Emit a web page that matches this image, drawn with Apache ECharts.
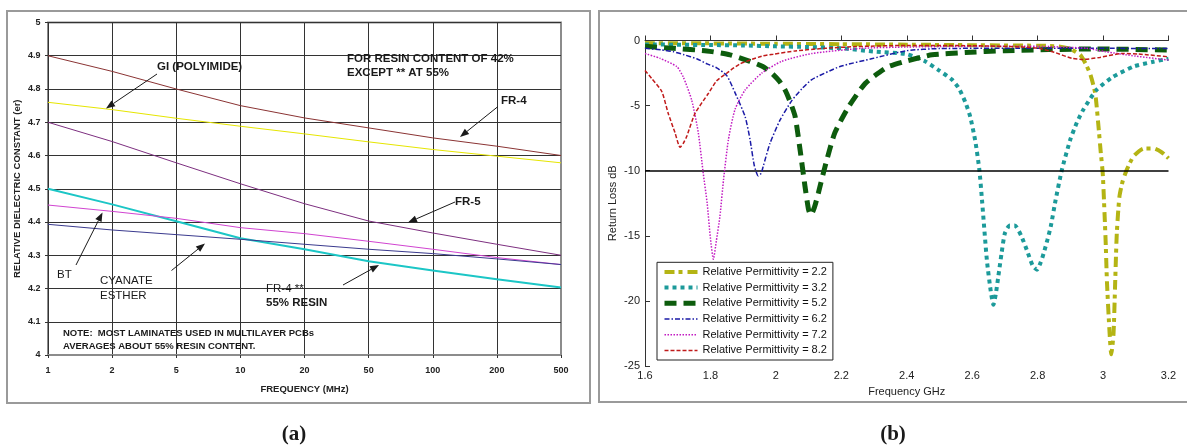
<!DOCTYPE html>
<html>
<head>
<meta charset="utf-8">
<script src="https://cdn.jsdelivr.net/npm/echarts@6.0.0/dist/echarts.min.js"></script>
<style>
  html, body { margin: 0; padding: 0; background: #fff; }
  #c { width: 1187px; height: 446px; }
</style>
</head>
<body>
<div id="c"></div>
<script>
// ---- Panel (a): relative dielectric constant of laminates vs frequency ----
const freqMHz = ['1', '2', '5', '10', '20', '50', '100', '200', '500'];
const fr4          = [4.900, 4.853, 4.800, 4.750, 4.713, 4.683, 4.653, 4.628, 4.600];
const giPolyimide  = [4.760, 4.738, 4.712, 4.688, 4.665, 4.641, 4.618, 4.598, 4.578];
const fr5          = [4.700, 4.642, 4.578, 4.515, 4.455, 4.403, 4.367, 4.333, 4.300];
const fr4Resin55   = [4.500, 4.453, 4.402, 4.351, 4.318, 4.282, 4.254, 4.228, 4.203];
const bt           = [4.451, 4.432, 4.411, 4.383, 4.365, 4.342, 4.318, 4.293, 4.272];
const cyanateEster = [4.393, 4.376, 4.362, 4.348, 4.333, 4.318, 4.305, 4.289, 4.272];

// ---- Panel (b): return loss (dB) vs frequency (GHz) for several permittivities ----
const er22 = [[1.6,-0.2],[1.8,-0.22],[2.0,-0.25],[2.2,-0.28],[2.4,-0.32],[2.6,-0.36],[2.8,-0.4],
  [2.86,-0.45],[2.9,-0.65],[2.93,-1.1],[2.946,-1.75],[2.961,-2.6],[2.976,-4.05],[2.986,-6.6],
  [2.993,-8.6],[2.999,-10.2],[3.004,-13.0],[3.008,-15.5],[3.012,-18.6],[3.02,-22.5],[3.025,-24.1],
  [3.032,-22.5],[3.037,-18.6],[3.042,-14.8],[3.05,-12.0],[3.06,-10.8],[3.073,-9.9],[3.093,-8.9],
  [3.124,-8.3],[3.155,-8.3],[3.18,-8.6],[3.2,-9.05]];
const er32 = [[1.6,-0.3],[1.8,-0.35],[1.9,-0.38],[2.0,-0.45],[2.1,-0.5],[2.2,-0.6],[2.3,-0.85],
  [2.4,-1.05],[2.456,-1.6],[2.497,-2.27],[2.538,-3.0],[2.56,-3.7],[2.58,-4.8],[2.594,-5.85],
  [2.61,-7.8],[2.622,-9.95],[2.63,-12.25],[2.645,-16.9],[2.657,-19.3],[2.665,-20.3],[2.672,-19.5],
  [2.68,-18.1],[2.69,-16.3],[2.70,-14.8],[2.715,-14.2],[2.73,-14.2],[2.75,-15.0],[2.767,-16.1],
  [2.785,-17.3],[2.798,-17.6],[2.81,-17.0],[2.819,-16.3],[2.83,-15.3],[2.84,-14.3],[2.855,-12.25],
  [2.874,-9.95],[2.90,-7.6],[2.92,-6.3],[2.94,-5.3],[2.98,-3.8],[3.03,-2.8],[3.093,-2.0],
  [3.15,-1.65],[3.2,-1.4]];
const er52 = [[1.6,-0.45],[1.687,-0.6],[1.789,-0.8],[1.86,-1.1],[1.921,-1.6],[1.96,-2.0],[1.987,-2.5],
  [2.01,-3.1],[2.028,-3.8],[2.045,-4.8],[2.059,-5.85],[2.074,-8.4],[2.089,-11.2],[2.1,-13.0],
  [2.107,-13.4],[2.118,-12.8],[2.13,-11.7],[2.15,-9.7],[2.18,-7.1],[2.222,-5.1],[2.273,-3.3],
  [2.319,-2.4],[2.344,-2.0],[2.395,-1.6],[2.45,-1.25],[2.477,-1.1],[2.578,-0.93],[2.7,-0.78],
  [2.966,-0.65],[3.2,-0.73]];
const er62 = [[1.6,-0.6],[1.65,-0.72],[1.687,-0.86],[1.72,-1.1],[1.758,-1.4],[1.79,-1.8],[1.819,-2.1],
  [1.85,-2.7],[1.875,-4.0],[1.906,-5.85],[1.921,-7.6],[1.934,-9.6],[1.946,-10.4],[1.955,-10.2],
  [1.962,-9.6],[1.982,-7.9],[2.013,-6.1],[2.049,-4.6],[2.08,-3.7],[2.11,-3.0],[2.196,-2.0],
  [2.298,-1.37],[2.4,-0.78],[2.5,-0.62],[2.7,-0.6],[3.0,-0.6],[3.2,-0.62]];
const er72 = [[1.6,-1.0],[1.646,-1.37],[1.697,-2.0],[1.717,-2.8],[1.743,-4.6],[1.763,-7.1],[1.778,-10.2],
  [1.79,-12.5],[1.8,-15.2],[1.809,-16.8],[1.818,-15.4],[1.829,-13.5],[1.84,-10.7],[1.855,-7.6],
  [1.875,-5.3],[1.906,-3.8],[1.957,-2.5],[2.018,-1.6],[2.11,-1.0],[2.263,-0.6],[2.4,-0.5],
  [2.6,-0.45],[2.8,-0.45],[2.95,-0.6],[3.007,-0.86],[3.1,-1.2],[3.2,-1.5]];
const er82 = [[1.6,-2.3],[1.62,-2.9],[1.651,-3.9],[1.671,-5.6],[1.692,-7.1],[1.707,-8.2],[1.717,-7.9],
  [1.727,-7.4],[1.753,-5.6],[1.794,-4.05],[1.819,-3.1],[1.85,-2.5],[1.89,-1.8],[1.957,-1.2],
  [1.992,-1.05],[2.059,-0.8],[2.15,-0.6],[2.247,-0.47],[2.4,-0.38],[2.6,-0.4],[2.75,-0.5],
  [2.803,-0.6],[2.85,-0.9],[2.905,-1.37],[2.94,-1.45],[2.99,-1.3],[3.058,-1.0],[3.108,-1.04],
  [3.2,-1.25]];
const returnLossLimit = -10;

const SANS = '"Liberation Sans", Arial, sans-serif';
const SERIF = '"Liberation Serif", "Times New Roman", serif';
const INK = '#1a1a1a';

function textEl(txt, x, y, size, bold, align, font) {
  const f = (bold ? 'bold ' : '') + size + 'px ' + (font || SANS);
  return {
    type: 'text', x: x, y: y, z: 100, silent: true,
    style: { text: txt, font: f, fill: INK, align: align || 'left', verticalAlign: 'middle',
             textAlign: align || 'left', textVerticalAlign: 'middle' }
  };
}

function arrowEl(x1, y1, x2, y2) {
  const dx = x2 - x1, dy = y2 - y1, L = Math.hypot(dx, dy);
  const ux = dx / L, uy = dy / L, hl = 9, hw = 3.5;
  const bx = x2 - ux * hl, by = y2 - uy * hl;
  return [
    { type: 'line', z: 100, silent: true, shape: { x1: x1, y1: y1, x2: bx, y2: by },
      style: { stroke: INK, lineWidth: 1 } },
    { type: 'polygon', z: 100, silent: true,
      shape: { points: [[x2, y2], [bx - uy * hw, by + ux * hw], [bx + uy * hw, by - ux * hw]] },
      style: { fill: INK } }
  ];
}

function panelALine(name, data, color, width) {
  return {
    name: name, type: 'line', xAxisIndex: 0, yAxisIndex: 0, data: data,
    symbol: 'none', showSymbol: false, smooth: false, z: 3,
    lineStyle: { color: color, width: width }, itemStyle: { color: color },
    emphasis: { disabled: true }
  };
}

const permSeries = [
  { name: 'Relative Permittivity = 2.2', data: er22, color: '#b4b414', width: 4,   dash: [10, 4, 4, 5] },
  { name: 'Relative Permittivity = 3.2', data: er32, color: '#1c9a9a', width: 4,   dash: [4, 4] },
  { name: 'Relative Permittivity = 5.2', data: er52, color: '#0d5c0d', width: 5,   dash: [12, 7] },
  { name: 'Relative Permittivity = 6.2', data: er62, color: '#1a1aa6', width: 1.5, dash: [5, 2, 1.5, 2] },
  { name: 'Relative Permittivity = 7.2', data: er72, color: '#c21bc2', width: 1.5, dash: [1.5, 1.5] },
  { name: 'Relative Permittivity = 8.2', data: er82, color: '#c01a1a', width: 1.5, dash: [4, 2] }
];

const panelBSeries = permSeries.map(function (s, i) {
  const out = {
    name: s.name, type: 'line', xAxisIndex: 1, yAxisIndex: 1, data: s.data,
    symbol: 'none', showSymbol: false, smooth: 0.2, z: 3 + i,
    lineStyle: { color: s.color, width: s.width, type: s.dash, cap: 'butt' },
    itemStyle: { color: s.color },
    emphasis: { disabled: true }
  };
  if (i === 0) {
    out.markLine = {
      silent: true, symbol: ['none', 'none'], label: { show: false },
      lineStyle: { color: '#000', width: 1.5, type: 'solid' },
      emphasis: { disabled: true },
      data: [{ yAxis: returnLossLimit }]
    };
  }
  return out;
});

const graphics = [
  // panel frames
  { type: 'rect', z: 0, silent: true, shape: { x: 7, y: 11, width: 583, height: 392 },
    style: { fill: 'none', stroke: '#9a9a9a', lineWidth: 2 } },
  { type: 'rect', z: 0, silent: true, shape: { x: 599, y: 11, width: 620, height: 391 },
    style: { fill: 'none', stroke: '#9a9a9a', lineWidth: 2 } },
  // panel (a) annotations
  textEl('GI (POLYIMIDE)', 157, 67, 11.5, true),
  textEl('FOR RESIN CONTENT OF 42%', 347, 58.5, 11.5, true),
  textEl('EXCEPT ** AT 55%', 347, 73, 11.5, true),
  textEl('FR-4', 501, 101, 11.5, true),
  textEl('FR-5', 455, 202, 11.5, true),
  textEl('BT', 57, 275, 11.5, false),
  textEl('CYANATE', 100, 281, 11.5, false),
  textEl('ESTHER', 100, 295.5, 11.5, false),
  textEl('FR-4 **', 266, 288.5, 11.5, false),
  textEl('55% RESIN', 266, 303, 11.5, true),
  textEl('NOTE:  MOST LAMINATES USED IN MULTILAYER PCBs', 63, 333.5, 9.5, true),
  textEl('AVERAGES ABOUT 55% RESIN CONTENT.', 63, 346, 9.5, true),
  // panel captions
  textEl('(a)', 294, 435, 21, true, 'center', SERIF),
  textEl('(b)', 893, 435, 21, true, 'center', SERIF)
].concat(
  arrowEl(157, 74, 106, 108.5),
  arrowEl(498, 106.5, 460, 137),
  arrowEl(455, 202, 408, 222.5),
  arrowEl(76, 265, 102.5, 212.5),
  arrowEl(171.5, 270.5, 205, 243.5),
  arrowEl(343, 285, 379, 265)
);

const gridColA = ['#333', '#333', '#333', '#333', '#333', '#333', '#333', '#333', '#8c8c8c'];
const gridRowA = ['#8c8c8c', '#333', '#333', '#333', '#333', '#333', '#333', '#333', '#333', '#333', '#333'];

const option = {
  animation: false,
  backgroundColor: '#fff',
  grid: [
    { left: 48, top: 22.5, width: 513, height: 332.5, show: true,
      borderColor: '#8c8c8c', borderWidth: 2, backgroundColor: 'transparent' },
    { left: 645, top: 40.5, width: 523.5, height: 325.5 }
  ],
  xAxis: [
    {
      type: 'category', gridIndex: 0, data: freqMHz, boundaryGap: false,
      axisLine: { show: true, lineStyle: { color: '#8c8c8c', width: 2 } },
      axisTick: { show: true, inside: false, length: 3, interval: 0, lineStyle: { color: '#333' } },
      axisLabel: { interval: 0, margin: 11, fontFamily: SANS, fontWeight: 'bold', fontSize: 9, color: '#222' },
      splitLine: { show: true, interval: 0, lineStyle: { color: gridColA, width: 1 } },
      name: 'FREQUENCY (MHz)', nameLocation: 'middle', nameGap: 29.5,
      nameTextStyle: { fontFamily: SANS, fontWeight: 'bold', fontSize: 9.5, color: '#222' }
    },
    {
      type: 'value', gridIndex: 1, min: 1.6, max: 3.2, interval: 0.2,
      axisLine: { show: true, lineStyle: { color: '#333', width: 1 } },
      axisTick: { show: true, inside: true, length: 5, lineStyle: { color: '#333' } },
      axisLabel: { margin: 4.5, fontFamily: SANS, fontSize: 11, color: '#222' },
      splitLine: { show: false },
      name: 'Frequency GHz', nameLocation: 'middle', nameGap: 19.5,
      nameTextStyle: { fontFamily: SANS, fontSize: 11, color: '#222' }
    }
  ],
  yAxis: [
    {
      type: 'value', gridIndex: 0, min: 4, max: 5, interval: 0.1,
      axisLine: { show: true, lineStyle: { color: '#333', width: 1 } },
      axisTick: { show: true, inside: false, length: 3, lineStyle: { color: '#333' } },
      axisLabel: { margin: 7.5, fontFamily: SANS, fontWeight: 'bold', fontSize: 9, color: '#222',
                   formatter: function (v) { return String(Math.round(v * 10) / 10); } },
      splitLine: { show: true, lineStyle: { color: gridRowA, width: 1 } },
      name: 'RELATIVE DIELECTRIC CONSTANT (er)', nameLocation: 'middle', nameGap: 26, nameRotate: 90,
      nameTextStyle: { fontFamily: SANS, fontWeight: 'bold', fontSize: 9.5, color: '#222' }
    },
    {
      type: 'value', gridIndex: 1, min: -25, max: 0, interval: 5,
      axisLine: { show: true, lineStyle: { color: '#333', width: 1 } },
      axisTick: { show: true, inside: true, length: 5, lineStyle: { color: '#333' } },
      axisLabel: { margin: 5, fontFamily: SANS, fontSize: 11, color: '#222' },
      splitLine: { show: false },
      name: 'Return Loss dB', nameLocation: 'middle', nameGap: 27, nameRotate: 90,
      nameTextStyle: { fontFamily: SANS, fontSize: 11, color: '#222' }
    }
  ],
  legend: {
    data: permSeries.map(function (s) {
      return {
        name: s.name,
        lineStyle: { color: s.color, width: s.width, type: s.dash, cap: 'butt' },
        itemStyle: { opacity: 0, borderWidth: 0 }
      };
    }),
    orient: 'vertical', left: 657, top: 262.3,
    itemWidth: 33, itemHeight: 14, itemGap: 4.5,
    padding: [4, 6, 4, 5],
    backgroundColor: '#fff', borderColor: '#222', borderWidth: 1, borderRadius: 0,
    selectedMode: false,
    textStyle: { fontFamily: SANS, fontSize: 11, color: '#111' }
  },
  series: [
    panelALine('FR-4', fr4, '#8b3434', 1),
    panelALine('GI (POLYIMIDE)', giPolyimide, '#e6e600', 1),
    panelALine('FR-5', fr5, '#7d2f80', 1),
    panelALine('FR-4 ** 55% RESIN', fr4Resin55, '#1cc6c6', 2),
    panelALine('BT', bt, '#d144d1', 1),
    panelALine('CYANATE ESTHER', cyanateEster, '#3a3a8e', 1)
  ].concat(panelBSeries),
  graphic: { elements: graphics }
};

const chart = echarts.init(document.getElementById('c'), null, { renderer: 'canvas' });
chart.setOption(option);
</script>
</body>
</html>
